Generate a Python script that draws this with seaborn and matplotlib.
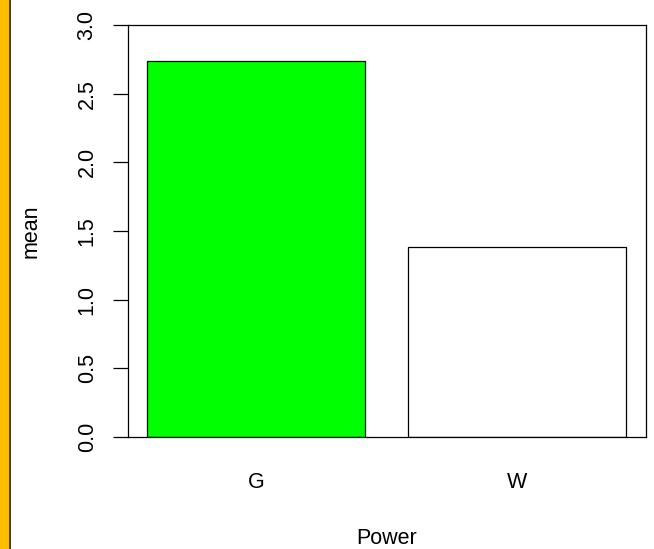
import matplotlib
matplotlib.use("Agg")
import matplotlib.pyplot as plt
import seaborn as sns
import pandas as pd
from matplotlib.patches import Rectangle
from matplotlib.lines import Line2D

# Mean value per power group
power = ["G", "W"]
mean_values = [2.74, 1.385]
bar_colors = ["#00FF00", "#FFFFFF"]
y_ticks = [0.0, 0.5, 1.0, 1.5, 2.0, 2.5, 3.0]

df = pd.DataFrame({"Power": power, "mean": mean_values})

sns.set_style("white")
plt.rcParams["font.family"] = ["Liberation Sans", "DejaVu Sans"]
plt.rcParams["font.size"] = 15.5
plt.rcParams["text.color"] = "black"
plt.rcParams["axes.labelcolor"] = "black"
plt.rcParams["xtick.color"] = "black"
plt.rcParams["ytick.color"] = "black"

W, H = 654, 549
fig = plt.figure(figsize=(W / 100, H / 100), dpi=100)
fig.patch.set_facecolor("white")
ax = fig.add_axes([128 / W, 1 - 437 / H, (646 - 128) / W, (437 - 25) / H])

sns.barplot(data=df, x="Power", y="mean", hue="Power", palette=bar_colors,
            width=0.835, edgecolor="black", linewidth=0.9, legend=False,
            saturation=1, ax=ax)

ax.set_xlim(-0.491, 1.494)
ax.set_ylim(0, 3)
ax.set_yticks(y_ticks)
ax.set_yticklabels([f"{v:.1f}" for v in y_ticks])

for s in ax.spines.values():
    s.set_color("black")
    s.set_linewidth(0.9)
    s.set_visible(True)

ax.tick_params(axis="y", left=True, length=10.8, width=0.9, color="black",
               labelcolor="black", pad=11, labelrotation=90, labelsize=15.5)
for lbl in ax.get_yticklabels():
    lbl.set_va("center")
ax.tick_params(axis="x", bottom=False, length=0, pad=25.5, labelsize=15.5,
               labelcolor="black")

ax.set_xlabel("Power", fontsize=15.5, color="black")
ax.xaxis.label.set_va("baseline")
ax.xaxis.set_label_coords(0.5, -(544.2 - 437) / 412)
ax.set_ylabel("mean", fontsize=15.5, color="black")
ax.yaxis.label.set_va("baseline")
ax.yaxis.set_label_coords((37 - 128) / 518, (437 - 231.5) / 412)

# Coloured strip along the left edge of the figure
fig.patches.append(Rectangle((0, 0), 8.5 / W, 1, transform=fig.transFigure,
                             facecolor="#FFBF00", edgecolor="none", zorder=0))
fig.lines.append(Line2D([9.8 / W, 9.8 / W], [0, 1], transform=fig.transFigure,
                        color="#3a3a3a", linewidth=1.4))

fig.savefig("out.png", dpi=100, facecolor="white")
